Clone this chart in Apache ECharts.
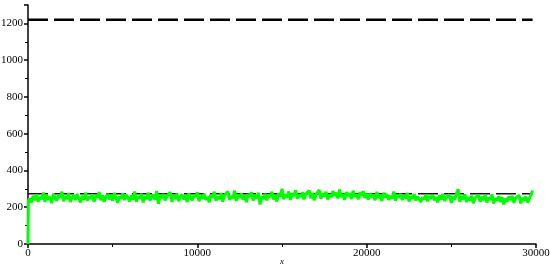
<!DOCTYPE html>
<html>
<head>
<meta charset="utf-8">
<script src="https://cdn.jsdelivr.net/npm/echarts@6/dist/echarts.min.js"></script>
<style>
  html, body { margin: 0; padding: 0; background: #fff; }
  #chart { width: 550px; height: 270px; }
</style>
</head>
<body>
<div id="chart"></div>
<script>
// sampling step of the green trace along x
const traceStep = 100;
// green trace values, x = 100, 200, ... 29800 (20 per row = 2000 in x)
const traceValues = [
  248, 226, 262, 238, 270, 231, 255, 244, 280, 229, 266, 240, 258, 222, 274, 247, 236, 268, 252, 284,
  233, 261, 245, 276, 228, 254, 266, 239, 272, 249, 226, 263, 241, 279, 236, 258, 247, 270, 230, 262,
  251, 283, 238, 264, 229, 257, 272, 243, 266, 235, 278, 250, 224, 260, 246, 275, 239, 268, 254, 232,
  266, 241, 285, 230, 259, 248, 273, 226, 262, 244, 279, 236, 255, 268, 240, 288, 218, 263, 249, 271,
  237, 260, 251, 282, 229, 266, 245, 274, 233, 258, 270, 242, 264, 228, 276, 250, 238, 267, 255, 281,
  232, 263, 247, 272, 240, 258, 226, 269, 253, 284, 235, 261, 244, 277, 230, 265, 256, 286, 239, 262,
  248, 290, 234, 268, 252, 275, 241, 264, 228, 271, 257, 282, 236, 266, 249, 279, 215, 260, 245, 273,
  238, 269, 255, 284, 242, 266, 231, 276, 259, 300, 244, 270, 252, 286, 240, 274, 262, 292, 247, 268,
  256, 281, 243, 272, 264, 290, 249, 277, 238, 268, 258, 294, 246, 275, 260, 284, 242, 271, 254, 288,
  263, 279, 248, 296, 255, 272, 240, 283, 261, 276, 245, 290, 258, 270, 243, 281, 262, 287, 250, 274,
  242, 275, 256, 268, 238, 284, 250, 266, 234, 279, 253, 271, 240, 262, 248, 285, 236, 267, 255, 273,
  239, 264, 249, 277, 231, 260, 245, 272, 236, 258, 266, 229, 255, 243, 270, 232, 261, 248, 267, 238,
  256, 227, 264, 241, 272, 235, 253, 246, 268, 224, 259, 240, 276, 298, 230, 262, 242, 270, 228, 255,
  236, 263, 222, 250, 244, 268, 230, 257, 239, 264, 226, 252, 241, 270, 220, 249, 236, 260, 228, 254,
  216, 247, 232, 259, 238, 262, 224, 250, 243, 266, 221, 251, 235, 258, 226, 244, 238, 291
];
// starting points of the trace (rises from 0)
const traceStart = [[0, 0], [20, 235]];
// horizontal reference levels
const upperLevel = 1220;
const lowerLevel = 273;
const levelSpan = [0, 29800];

const traceData = traceStart.concat(traceValues.map((v, i) => [(i + 1) * traceStep, v]));

const chart = echarts.init(document.getElementById("chart"), null, { renderer: "canvas" });
const font = "Liberation Serif";

chart.setOption({
  animation: false,
  grid: { left: 28, right: 14, top: 5, bottom: 26, outerBoundsMode: "none" },
  xAxis: {
    type: "value",
    min: 0,
    max: 30000,
    interval: 10000,
    name: "x",
    nameLocation: "middle",
    nameGap: 13,
    nameMoveOverlap: false,
    nameTextStyle: { fontFamily: font, fontStyle: "italic", fontSize: 9, color: "#000" },
    axisLine: { lineStyle: { color: "#000", width: 1.5 } },
    axisTick: { show: true, length: 4, lineStyle: { color: "#000", width: 1.5 } },
    minorTick: { show: true, splitNumber: 2, length: 3, lineStyle: { color: "#000", width: 1 } },
    splitLine: { show: false },
    axisLabel: {
      fontFamily: font, fontSize: 11, color: "#000", margin: 4,
      formatter: v => String(v)
    }
  },
  yAxis: {
    type: "value",
    min: 0,
    max: 1300,
    interval: 200,
    axisLine: { show: true, lineStyle: { color: "#000", width: 1.5 } },
    axisTick: { show: true, length: 4, lineStyle: { color: "#000", width: 1.5 } },
    minorTick: { show: true, splitNumber: 2, length: 3, lineStyle: { color: "#000", width: 1 } },
    splitLine: { show: false },
    axisLabel: {
      fontFamily: font, fontSize: 11, color: "#000", margin: 5,
      showMaxLabel: false,
      formatter: v => String(v)
    }
  },
  series: [
    {
      type: "line",
      data: levelSpan.map(x => [x, upperLevel]),
      symbol: "none",
      lineStyle: { color: "#000", width: 2.5, type: [20, 6] },
      z: 2
    },
    {
      type: "line",
      data: levelSpan.map(x => [x, lowerLevel]),
      symbol: "none",
      lineStyle: { color: "#1a1020", width: 1.5, type: [20, 6] },
      z: 2
    },
    {
      type: "line",
      data: traceData,
      symbol: "none",
      lineStyle: { color: "#00ff00", width: 3 },
      z: 3
    }
  ]
});
</script>
</body>
</html>
